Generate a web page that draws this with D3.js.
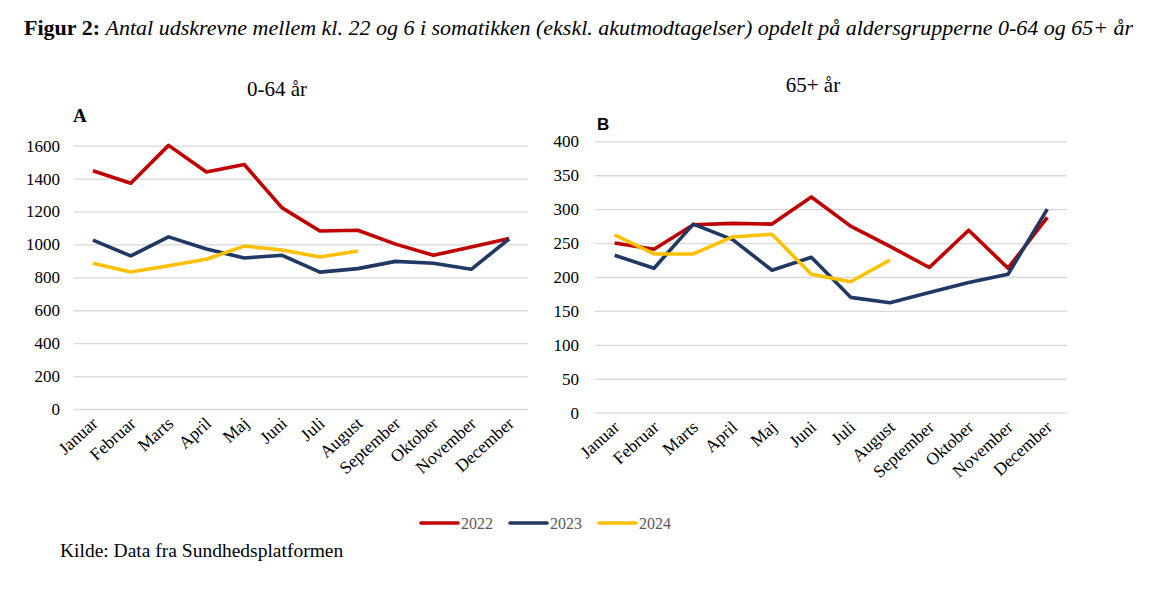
<!DOCTYPE html>
<html>
<head>
<meta charset="utf-8">
<script src="https://cdn.jsdelivr.net/npm/d3@7"></script>
<style>
  body { margin: 0; background: #fff; }
</style>
</head>
<body>
<svg width="1153" height="592"></svg>
<script>
const months = ["Januar", "Februar", "Marts", "April", "Maj", "Juni", "Juli",
  "August", "September", "Oktober", "November", "December"];
const years = ["2022", "2023", "2024"];
const colors = ["#c00000", "#203864", "#ffc000"];

// 0-64 år
const young2022 = [1448, 1372, 1602, 1440, 1486, 1222, 1082, 1086, 1002, 934, 984, 1036];
const young2023 = [1026, 930, 1046, 972, 918, 934, 832, 853, 897, 886, 849, 1033];
const young2024 = [886, 832, 870, 910, 990, 966, 924, 960];
const youngTicks = [0, 200, 400, 600, 800, 1000, 1200, 1400, 1600];

// 65+ år
const old2022 = [250, 241, 277, 279, 278, 318, 275, 245, 214, 269, 213, 288];
const old2023 = [232, 213, 278, 255, 210, 229, 170, 162, 177, 192, 204, 300];
const old2024 = [262, 234, 234, 259, 263, 204, 193, 225];
const oldTicks = [0, 50, 100, 150, 200, 250, 300, 350, 400];

const serif = "'Liberation Serif', 'Times New Roman', serif";
const svg = d3.select("svg").style("font-family", serif);

// title
const title = svg.append("text").attr("x", 24).attr("y", 35).style("font-size", "22px");
title.append("tspan").style("font-weight", "bold").text("Figur 2: ");
title.append("tspan").style("font-style", "italic")
  .text("Antal udskrevne mellem kl. 22 og 6 i somatikken (ekskl. akutmodtagelser) opdelt på aldersgrupperne 0-64 og 65+ år");

const panel = (opts) => {
  const x = d3.scaleBand().domain(months).range([opts.left, opts.right]);
  const y = d3.scaleLinear().domain([0, opts.max]).range([opts.bottom, opts.top]);

  const g = svg.append("g");

  // grid + y labels
  g.append("g")
    .attr("transform", `translate(${opts.left},0)`)
    .call(d3.axisLeft(y).tickValues(opts.ticks).tickFormat(d3.format("d"))
      .tickSize(-(opts.right - opts.left)).tickPadding(opts.pad))
    .call(s => s.select(".domain").remove())
    .call(s => s.selectAll(".tick line").attr("stroke", "#d9d9d9").attr("stroke-width", 1.3))
    .call(s => s.selectAll(".tick text").attr("fill", "#000")
      .style("font-family", serif).style("font-size", "17px"));

  // month labels
  g.append("g")
    .attr("transform", `translate(0,${opts.bottom})`)
    .call(d3.axisBottom(x).tickSize(0).tickPadding(0))
    .call(s => s.select(".domain").remove())
    .call(s => s.selectAll(".tick text")
      .attr("fill", "#000").style("font-family", serif).style("font-size", "17.5px")
      .attr("text-anchor", "end").attr("dy", 0)
      .attr("transform", "translate(6,16) rotate(-42)"));

  const line = d3.line()
    .x((d, i) => x(months[i]) + x.bandwidth() / 2)
    .y(d => y(d));

  opts.series.forEach((s, i) => {
    g.append("path").datum(s)
      .attr("fill", "none")
      .attr("stroke", colors[i])
      .attr("stroke-width", 3.6)
      .attr("stroke-linejoin", "round")
      .attr("d", line);
  });

  svg.append("text").attr("x", opts.titleX).attr("y", opts.titleY)
    .attr("text-anchor", "middle").style("font-size", "21px").text(opts.title);
  svg.append("text").attr("x", opts.letterX).attr("y", opts.letterY)
    .style("font-size", opts.letterSize + "px").style("font-weight", "bold")
    .style("font-family", opts.letterFont).text(opts.letter);
};

panel({
  left: 74, right: 528, top: 145.7, bottom: 409, max: 1600, ticks: youngTicks, pad: 14,
  series: [young2022, young2023, young2024],
  title: "0-64 år", titleX: 277, titleY: 96,
  letter: "A", letterX: 73, letterY: 122, letterSize: 19, letterFont: serif
});

panel({
  left: 595, right: 1067, top: 141.3, bottom: 412.7, max: 400, ticks: oldTicks, pad: 16,
  series: [old2022, old2023, old2024],
  title: "65+ år", titleX: 813, titleY: 92,
  letter: "B", letterX: 597, letterY: 130, letterSize: 17, letterFont: "'Liberation Sans', Arial, sans-serif"
});

// legend
const legend = svg.append("g").attr("transform", "translate(421,523)");
years.forEach((yr, i) => {
  const lg = legend.append("g").attr("transform", `translate(${i * 89},0)`);
  lg.append("line").attr("x1", 0).attr("x2", 37).attr("y1", 0).attr("y2", 0)
    .attr("stroke", colors[i]).attr("stroke-width", 3.6).attr("stroke-linecap", "round");
  lg.append("text").attr("x", 40).attr("y", 5.5).style("font-size", "16px")
    .attr("fill", "#595959").text(yr);
});

svg.append("text").attr("x", 60).attr("y", 557).style("font-size", "19.5px")
  .text("Kilde: Data fra Sundhedsplatformen");
</script>
</body>
</html>
